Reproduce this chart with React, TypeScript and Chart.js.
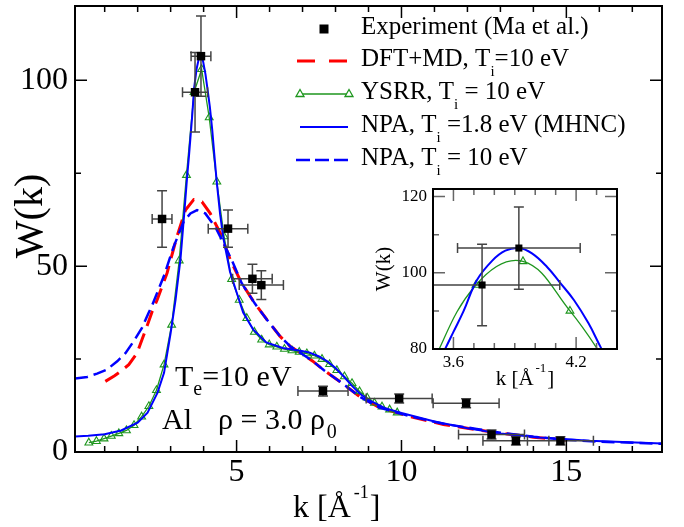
import React, { useEffect, useRef } from "react";
import { Chart, registerables } from "chart.js";
Chart.register(...registerables);

const SERIF = "'Liberation Serif', 'Times New Roman', serif";

// ---------------- data ----------------
const expK = [2.74, 3.74, 3.92, 4.74, 5.48, 5.75, 7.62, 9.93, 11.96, 12.73, 13.47, 14.82];
const expW = [62.7, 96.8, 106.5, 60.1, 46.6, 44.9, 16.4, 14.4, 13.1, 4.7, 3.0, 3.0];
const expKErr = [0.3, 0.38, 0.3, 0.6, 0.6, 0.67, 0.76, 1.0, 1.0, 1.0, 1.0, 1.0];
const expWErr = [7.6, 10.7, 10.8, 5.0, 3.9, 3.9, 1.3, 1.2, 1.2, 1.2, 1.1, 1.1];

const dftK = [1.02, 1.3, 1.5, 1.73, 1.98, 2.13, 2.28, 2.44, 2.59, 2.89, 3.19, 3.45, 3.7, 3.95, 4.2, 4.51, 4.81, 5.15, 5.55, 5.92, 6.32, 6.63, 7.0, 7.3, 7.65, 8.0, 8.35, 8.75, 9.35, 10.26, 11.27, 12.28, 13.0, 14.0, 15.0];
const dftW = [19.0, 20.5, 21.8, 23.5, 26.6, 30.2, 33.8, 37.8, 40.9, 48.1, 57.9, 65.1, 67.9, 67.3, 64.2, 58.8, 51.7, 45.5, 40.0, 35.6, 31.1, 28.4, 26.3, 24.5, 22.0, 19.8, 17.5, 14.8, 11.9, 9.5, 7.4, 6.0, 5.1, 4.0, 3.2];

const ysrrK = [0.52, 0.75, 0.98, 1.2, 1.43, 1.66, 1.89, 2.12, 2.34, 2.57, 2.8, 3.03, 3.26, 3.48, 3.71, 3.94, 4.17, 4.4, 4.62, 4.85, 5.08, 5.31, 5.54, 5.76, 5.99, 6.22, 6.45, 6.68, 6.9, 7.13, 7.36, 7.59, 7.82, 8.04, 8.27, 8.5, 8.73, 8.96, 9.18, 9.41, 9.64, 9.87];
const ysrrW = [2.5, 2.9, 3.6, 4.3, 5.0, 5.8, 7.2, 9.5, 12.3, 16.6, 23.5, 34.2, 51.5, 74.5, 96.8, 103.0, 90.0, 72.7, 58.0, 46.5, 40.9, 36.0, 32.3, 30.2, 28.9, 28.3, 27.7, 27.3, 26.9, 26.5, 25.9, 25.0, 23.6, 22.0, 20.3, 18.5, 16.3, 14.6, 13.2, 12.2, 11.4, 10.6];

const npaK = [0.1, 0.5, 1.0, 1.5, 2.0, 2.3, 2.6, 2.8, 3.0, 3.15, 3.3, 3.42, 3.5, 3.56, 3.6, 3.65, 3.715, 3.79, 3.854, 3.92, 3.984, 4.057, 4.12, 4.19, 4.26, 4.32, 4.4, 4.5, 4.6, 4.7, 4.8, 5.0, 5.2, 5.5, 5.9, 6.4, 6.9, 7.2, 7.5, 7.75, 8.0, 8.25, 8.5, 8.75, 9.0, 9.5, 10.0, 11.0, 12.0, 13.0, 14.2, 15.7, 17.9];
const npaW = [4.2, 4.4, 4.8, 5.8, 7.9, 10.6, 15.9, 21.3, 32.0, 41.0, 52.0, 65.0, 74.0, 80.1, 84.5, 90.0, 98.1, 103.2, 105.8, 106.5, 105.1, 101.6, 97.5, 92.8, 86.8, 80.5, 72.5, 64.0, 57.5, 53.0, 48.5, 43.0, 37.5, 33.0, 29.5, 28.0, 27.3, 26.8, 25.7, 24.4, 22.6, 20.3, 17.8, 15.6, 14.0, 11.8, 10.5, 8.2, 6.4, 5.0, 3.9, 3.0, 2.3];

const npa10K = [0.1, 0.47, 0.77, 1.07, 1.38, 1.63, 1.88, 2.13, 2.33, 2.44, 2.79, 3.09, 3.39, 3.6, 3.8, 4.05, 4.35, 4.61, 4.86, 5.15, 5.55, 5.92, 6.32, 6.63, 7.0, 7.3, 7.65, 8.0, 8.35, 8.75, 9.35, 10.26, 11.27, 12.28, 13.0, 14.0, 15.0, 16.0, 17.9];
const npa10W = [19.8, 20.2, 21.1, 22.2, 24.4, 26.6, 29.8, 33.4, 37.4, 39.5, 47.2, 55.2, 61.9, 64.2, 65.1, 64.2, 60.6, 56.1, 51.5, 45.5, 40.0, 35.6, 31.1, 28.4, 26.3, 24.5, 22.0, 19.8, 17.5, 14.8, 11.9, 9.6, 7.6, 6.2, 5.2, 4.1, 3.3, 2.8, 2.2];

// ---------------- axes ----------------
const mainXRange = [0.1, 17.9];
const mainYRange = [0, 120];
const mainXTicks = [5, 10, 15];
const mainXMinor = [1, 2, 3, 4, 6, 7, 8, 9, 11, 12, 13, 14, 16, 17];
const mainYTicks = [0, 50, 100];
const mainYMinor = [25, 75];

const insetXRange = [3.5, 4.4];
const insetYRange = [80, 122];
const insetXTicks = [3.6, 4.2];
const insetXMinor = [3.5, 3.7, 3.8, 3.9, 4.0, 4.1, 4.3, 4.4];
const insetYTicks = [80, 100, 120];
const insetYMinor = [90, 110];

// ---------------- text ----------------
const legendTexts = [
  ["Experiment (Ma et al.)", "", ""],
  ["DFT+MD, T", "i", "=10 eV"],
  ["YSRR, T", "i", " = 10 eV"],
  ["NPA, T", "i", " =1.8 eV (MHNC)"],
  ["NPA, T", "i", " = 10 eV"],
];
const annTe = ["T", "e", "=10 eV"];
const annAl = "Al";
const annRho = ["\u03C1 = 3.0 \u03C1", "0"];
const axisXTitle = ["k [\u00C5", "-1", "]"];
const axisYTitle = "W(k)";

const RED = "#ff0000";
const BLUE = "#0000ff";
const GREEN = "#1e961e";

type Part = { t: string; size: number; dy?: number; dx?: number; adv?: boolean };

function partsWidth(ctx: CanvasRenderingContext2D, parts: Part[]) {
  let w = 0;
  for (const p of parts) {
    ctx.font = `${p.size}px ${SERIF}`;
    if (p.adv !== false) w += ctx.measureText(p.t).width + (p.dx ?? 0);
  }
  return w;
}

function drawParts(ctx: CanvasRenderingContext2D, parts: Part[], x: number, y: number) {
  let cx = x;
  ctx.textBaseline = "alphabetic";
  ctx.textAlign = "left";
  for (const p of parts) {
    ctx.font = `${p.size}px ${SERIF}`;
    const w = ctx.measureText(p.t).width;
    ctx.fillText(p.t, cx + (p.dx ?? 0), y + (p.dy ?? 0));
    if (p.adv !== false) cx += w + (p.dx ?? 0);
  }
}

function pts(xs: number[], ys: number[]) {
  return xs.map((x, i) => ({ x, y: ys[i] }));
}

function framePlugin(xMaj: number[], xMin: number[], yMaj: number[], yMin: number[], tickColor: string) {
  return {
    id: "frameTicks",
    afterDatasetsDraw(chart: any) {
      const { ctx, chartArea: a } = chart;
      const xs = chart.scales.x;
      const ys = chart.scales.y;
      ctx.save();
      ctx.strokeStyle = tickColor;
      ctx.lineWidth = 1.5;
      ctx.beginPath();
      const addX = (v: number, len: number) => {
        const p = xs.getPixelForValue(v);
        ctx.moveTo(p, a.bottom);
        ctx.lineTo(p, a.bottom - len);
        ctx.moveTo(p, a.top);
        ctx.lineTo(p, a.top + len);
      };
      const addY = (v: number, len: number) => {
        const p = ys.getPixelForValue(v);
        ctx.moveTo(a.left, p);
        ctx.lineTo(a.left + len, p);
        ctx.moveTo(a.right, p);
        ctx.lineTo(a.right - len, p);
      };
      xMaj.forEach((v) => addX(v, 12));
      xMin.forEach((v) => addX(v, 6));
      yMaj.forEach((v) => addY(v, 12));
      yMin.forEach((v) => addY(v, 6));
      ctx.stroke();
      ctx.strokeStyle = "#000";
      ctx.lineWidth = 2;
      ctx.strokeRect(a.left, a.top, a.right - a.left, a.bottom - a.top);
      ctx.restore();
    },
  };
}

function errorPlugin(cap: number, color: string) {
  return {
    id: "errBars",
    beforeDatasetDraw(chart: any, args: any) {
      if (args.index !== 0) return;
      const { ctx, chartArea: a } = chart;
      const xs = chart.scales.x;
      const ys = chart.scales.y;
      ctx.save();
      ctx.beginPath();
      ctx.rect(a.left, a.top, a.right - a.left, a.bottom - a.top);
      ctx.clip();
      ctx.strokeStyle = color;
      ctx.lineWidth = 1.5;
      ctx.beginPath();
      expK.forEach((k, i) => {
        const px = xs.getPixelForValue(k);
        const py = ys.getPixelForValue(expW[i]);
        const x0 = xs.getPixelForValue(k - expKErr[i]);
        const x1 = xs.getPixelForValue(k + expKErr[i]);
        const y0 = ys.getPixelForValue(expW[i] - expWErr[i]);
        const y1 = ys.getPixelForValue(expW[i] + expWErr[i]);
        ctx.moveTo(x0, py); ctx.lineTo(x1, py);
        ctx.moveTo(x0, py - cap); ctx.lineTo(x0, py + cap);
        ctx.moveTo(x1, py - cap); ctx.lineTo(x1, py + cap);
        ctx.moveTo(px, y0); ctx.lineTo(px, y1);
        ctx.moveTo(px - cap, y0); ctx.lineTo(px + cap, y0);
        ctx.moveTo(px - cap, y1); ctx.lineTo(px + cap, y1);
      });
      ctx.stroke();
      ctx.restore();
    },
  };
}

const mainTextPlugin = {
  id: "mainText",
  afterDraw(chart: any) {
    const ctx: CanvasRenderingContext2D = chart.ctx;
    ctx.save();
    ctx.fillStyle = "#000";
    // y title
    ctx.save();
    ctx.translate(31, 216);
    ctx.rotate(-Math.PI / 2);
    ctx.font = `40px ${SERIF}`;
    ctx.textAlign = "center";
    ctx.textBaseline = "middle";
    ctx.fillText(axisYTitle, 0, 0);
    ctx.restore();
    // x title
    drawParts(ctx, [
      { t: axisXTitle[0], size: 32 },
      { t: axisXTitle[1], size: 18, dy: -19, dx: 3 },
      { t: axisXTitle[2], size: 32, dx: 1 },
    ], 293, 517);
    // annotations
    drawParts(ctx, [
      { t: annTe[0], size: 30 },
      { t: annTe[1], size: 20, dy: 9 },
      { t: annTe[2], size: 30 },
    ], 175, 386);
    drawParts(ctx, [{ t: annAl, size: 30 }], 162, 429);
    drawParts(ctx, [
      { t: annRho[0], size: 30 },
      { t: annRho[1], size: 20, dy: 9, dx: 2 },
    ], 218, 429);

    // legend
    const rowsY = [29, 61, 94, 127, 160];
    const x0 = 300, x1 = 348, tx = 361;
    rowsY.forEach((y, i) => {
      ctx.save();
      if (i === 0) {
        ctx.fillStyle = "#000";
        ctx.fillRect(324 - 4.5, y - 4.5, 9, 9);
      } else if (i === 1) {
        ctx.strokeStyle = RED; ctx.lineWidth = 3; ctx.setLineDash([18, 14]);
        ctx.beginPath(); ctx.moveTo(297, y); ctx.lineTo(x1, y); ctx.stroke();
      } else if (i === 2) {
        ctx.strokeStyle = GREEN; ctx.lineWidth = 1.3;
        ctx.beginPath(); ctx.moveTo(x0, y); ctx.lineTo(x1 + 1, y); ctx.stroke();
        [x0, x1 + 1].forEach((px) => {
          ctx.beginPath();
          ctx.moveTo(px, y - 4.5); ctx.lineTo(px + 4, y + 2.5); ctx.lineTo(px - 4, y + 2.5); ctx.closePath();
          ctx.fillStyle = "#fff"; ctx.fill(); ctx.stroke();
        });
      } else if (i === 3) {
        ctx.strokeStyle = BLUE; ctx.lineWidth = 2;
        ctx.beginPath(); ctx.moveTo(x0, y); ctx.lineTo(x1, y); ctx.stroke();
      } else {
        ctx.strokeStyle = BLUE; ctx.lineWidth = 2.5; ctx.setLineDash([14, 5]);
        ctx.beginPath(); ctx.moveTo(296, y); ctx.lineTo(x1, y); ctx.stroke();
      }
      ctx.restore();
      const [a, b, c] = legendTexts[i];
      const parts: Part[] = [{ t: a, size: 25 }];
      if (b) parts.push({ t: b, size: 15, dy: 10, dx: 0 });
      if (c) parts.push({ t: c, size: 25 });
      drawParts(ctx, parts, tx, y + 5);
    });
    ctx.restore();
  },
};

const INSET_LEFT = 340, INSET_TOP = 180;

const insetTextPlugin = {
  id: "insetText",
  beforeDatasetsDraw(chart: any) {
    const { ctx, chartArea: a } = chart;
    ctx.save();
    ctx.fillStyle = "#fff";
    ctx.fillRect(a.left, a.top, a.right - a.left, a.bottom - a.top);
    ctx.restore();
  },
  afterDraw(chart: any) {
    const ctx: CanvasRenderingContext2D = chart.ctx;
    const a = chart.chartArea;
    ctx.save();
    ctx.fillStyle = "#000";
    ctx.save();
    ctx.translate(384 - INSET_LEFT, (a.top + a.bottom) / 2);
    ctx.rotate(-Math.PI / 2);
    ctx.font = `21px ${SERIF}`;
    ctx.textAlign = "center";
    ctx.textBaseline = "middle";
    ctx.fillText(axisYTitle, 0, 0);
    ctx.restore();
    const parts: Part[] = [
      { t: axisXTitle[0], size: 21 },
      { t: axisXTitle[1], size: 13, dy: -13, dx: 2 },
      { t: axisXTitle[2], size: 21, dx: 1 },
    ];
    const w = partsWidth(ctx, parts);
    drawParts(ctx, parts, (a.left + a.right) / 2 - w / 2, 385 - INSET_TOP);
    ctx.restore();
  },
};

function scaleCommon(size: number, padding: number) {
  return {
    type: "linear" as const,
    grid: { display: false, drawTicks: false },
    border: { display: false },
    ticks: {
      font: { family: SERIF, size },
      color: "#000",
      padding,
      maxRotation: 0,
      autoSkip: false,
      callback: (v: any) => String(v),
    },
  };
}

export default function App() {
  const mainRef = useRef<HTMLCanvasElement>(null);
  const insetRef = useRef<HTMLCanvasElement>(null);

  useEffect(() => {
    const expData = pts(expK, expW);
    const datasets = (sq: number, tri: number, tension: number) => [
      {
        label: "Experiment (Ma et al.)",
        data: expData,
        showLine: false,
        pointStyle: "rect",
        pointRadius: sq,
        pointBackgroundColor: "#000",
        pointBorderColor: "#000",
        pointBorderWidth: 0,
        order: 0,
      },
      {
        label: "NPA, Ti = 10 eV",
        data: pts(npa10K, npa10W),
        showLine: true,
        borderColor: BLUE,
        borderWidth: 2.5,
        borderDash: [13, 6],
        pointRadius: 0,
        tension,
        order: 1,
      },
      {
        label: "NPA, Ti =1.8 eV (MHNC)",
        data: pts(npaK, npaW),
        showLine: true,
        borderColor: BLUE,
        borderWidth: 2,
        pointRadius: 0,
        tension,
        order: 2,
      },
      {
        label: "YSRR, Ti = 10 eV",
        data: pts(ysrrK, ysrrW),
        showLine: true,
        borderColor: GREEN,
        borderWidth: 1.3,
        pointStyle: "triangle",
        pointRadius: tri,
        pointBorderColor: GREEN,
        pointBackgroundColor: "rgba(255,255,255,0)",
        pointBorderWidth: 1.1,
        tension,
        order: 3,
      },
      {
        label: "DFT+MD, Ti=10 eV",
        data: pts(dftK, dftW),
        showLine: true,
        borderColor: RED,
        borderWidth: 3,
        borderDash: [16, 8],
        pointRadius: 0,
        tension,
        order: 4,
      },
    ];

    const mainX: any = scaleCommon(32, 1);
    mainX.min = mainXRange[0];
    mainX.max = mainXRange[1];
    mainX.afterBuildTicks = (s: any) => { s.ticks = mainXTicks.map((v) => ({ value: v })); };
    mainX.afterFit = (s: any) => { s.height = 75; s.paddingLeft = 0; s.paddingRight = 0; };
    const mainY: any = scaleCommon(32, 7);
    mainY.min = mainYRange[0];
    mainY.max = mainYRange[1];
    mainY.afterBuildTicks = (s: any) => { s.ticks = mainYTicks.map((v) => ({ value: v })); };
    mainY.afterFit = (s: any) => { s.width = 75; s.paddingTop = 0; s.paddingBottom = 0; };

    const main = new Chart(mainRef.current as HTMLCanvasElement, {
      type: "scatter",
      data: { datasets: datasets(6, 4.5, 0) as any },
      options: {
        animation: false,
        responsive: false,
        maintainAspectRatio: false,
        layout: { padding: { top: 5, right: 22, left: 0, bottom: 0 } },
        plugins: { legend: { display: false }, tooltip: { enabled: false } },
        scales: { x: mainX, y: mainY },
      },
      plugins: [errorPlugin(5, "#444"), framePlugin(mainXTicks, mainXMinor, mainYTicks, mainYMinor, "#000"), mainTextPlugin],
    });

    const insX: any = scaleCommon(17, 3);
    insX.min = insetXRange[0];
    insX.max = insetXRange[1];
    insX.afterBuildTicks = (s: any) => { s.ticks = insetXTicks.map((v) => ({ value: v })); };
    insX.afterFit = (s: any) => { s.height = 51; s.paddingLeft = 0; s.paddingRight = 0; };
    const insY: any = scaleCommon(17, 6);
    insY.min = insetYRange[0];
    insY.max = insetYRange[1];
    insY.afterBuildTicks = (s: any) => { s.ticks = insetYTicks.map((v) => ({ value: v })); };
    insY.afterFit = (s: any) => { s.width = 93; s.paddingTop = 0; s.paddingBottom = 0; };

    const inset = new Chart(insetRef.current as HTMLCanvasElement, {
      type: "scatter",
      data: { datasets: datasets(5, 4.5, 0.4) as any },
      options: {
        animation: false,
        responsive: false,
        maintainAspectRatio: false,
        layout: { padding: { top: 9, right: 23, left: 0, bottom: 0 } },
        plugins: { legend: { display: false }, tooltip: { enabled: false } },
        scales: { x: insX, y: insY },
      },
      plugins: [insetTextPlugin, errorPlugin(5, "#444"), framePlugin(insetXTicks, insetXMinor, insetYTicks, insetYMinor, "#666")],
    });

    return () => {
      main.destroy();
      inset.destroy();
    };
  }, []);

  return (
    <div style={{ position: "fixed", left: 0, top: 0, width: 684, height: 527, background: "#fff" }}>
      <canvas ref={mainRef} width={684} height={527} style={{ position: "absolute", left: 0, top: 0, width: 684, height: 527 }} />
      <canvas ref={insetRef} width={300} height={220} style={{ position: "absolute", left: INSET_LEFT, top: INSET_TOP, width: 300, height: 220 }} />
    </div>
  );
}
